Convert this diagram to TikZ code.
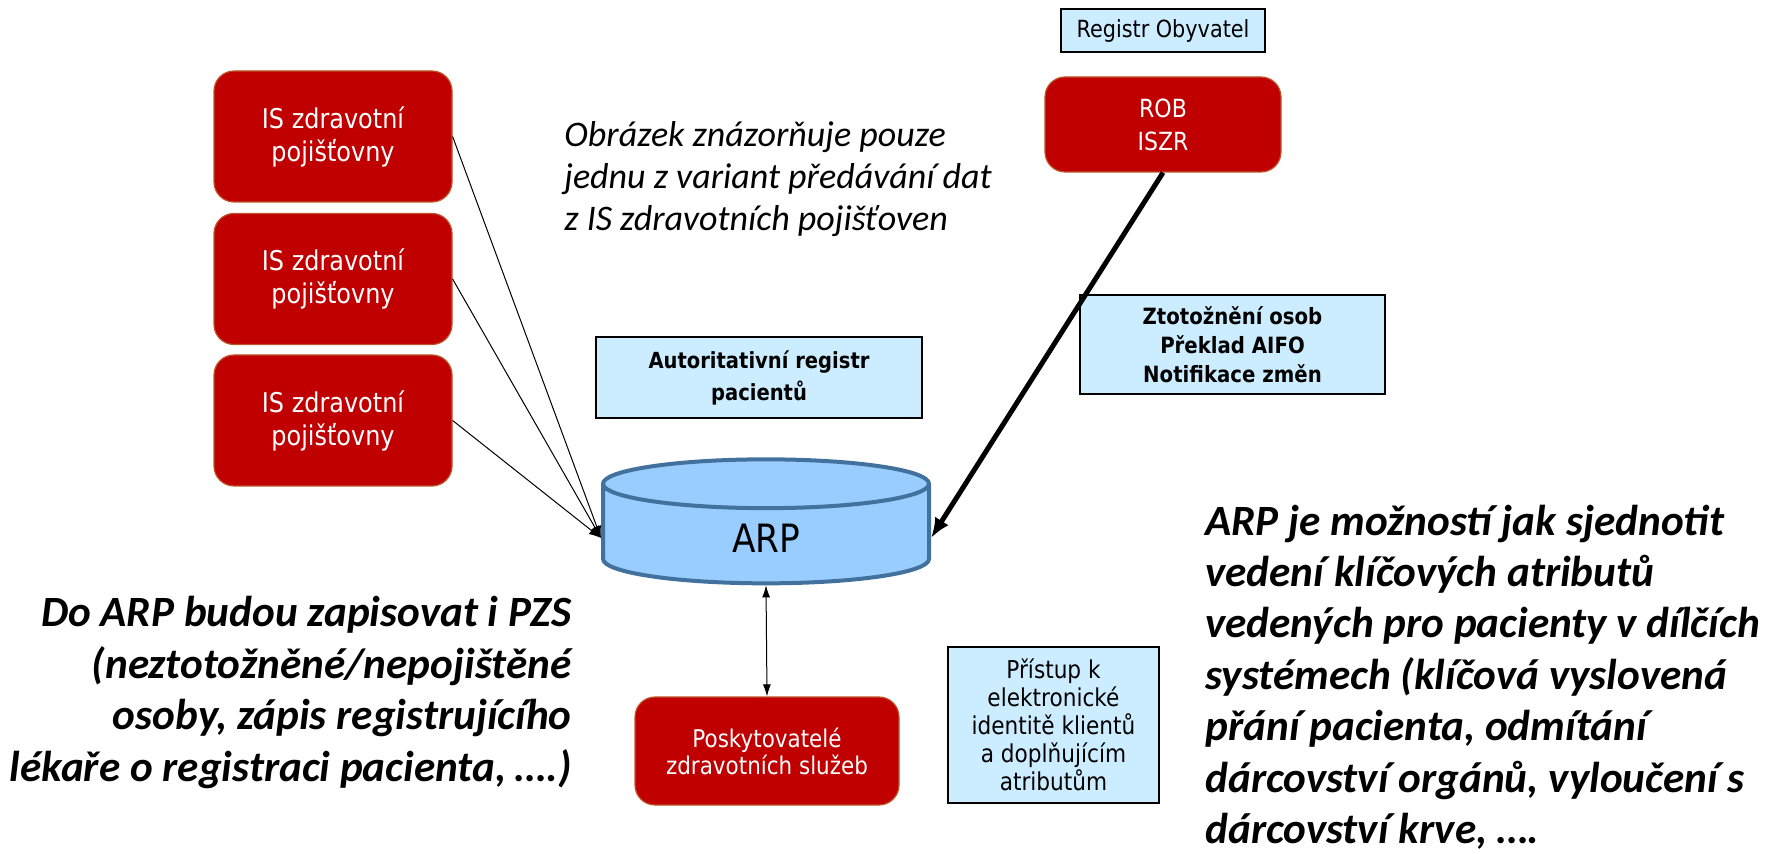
\documentclass[tikz,border=0pt]{standalone}
\usepackage{fontspec}
\usepackage{tikz}
\usetikzlibrary{shapes.geometric,arrows.meta}
\setmainfont{Carlito}
\newfontfamily\boxfont[FakeStretch=0.88]{DejaVu Sans}
\definecolor{isred}{RGB}{192, 0, 0}
\definecolor{isedge}{RGB}{190, 84, 40}
\definecolor{regblue}{RGB}{204, 236, 255}
\definecolor{dbfill}{RGB}{153, 204, 255}
\definecolor{dbedge}{RGB}{65, 113, 156}
\tikzset{
  isbox/.style={rectangle, rounded corners=10pt, fill=isred, draw=isedge, line width=0.6pt,
    text=white, align=center, font=\boxfont\fontsize{13.6}{16.5}\selectfont},
  regbox/.style={rectangle, fill=regblue, draw=black, line width=0.8pt, align=center,
    font=\boxfont\fontsize{11.8}{14}\selectfont},
  notetext/.style={inner sep=0pt, align=left, font=\itshape\fontsize{18}{21}\selectfont},
  claim/.style={inner sep=0pt, font=\bfseries\itshape\fontsize{21.6}{25.7}\selectfont},
  feed/.style={line width=0.5pt, -{Latex[length=6pt, width=4.5pt]}},
}
\begin{document}
\begin{tikzpicture}
\useasboundingbox (0pt, 0pt) rectangle (882.5pt, -427pt);
% insurers
\node (is1) [isbox, minimum width=119pt, minimum height=65.5pt] at (166.5pt, -68.25pt) {IS zdravotní\\pojišťovny};
\node (is2) [isbox, minimum width=119pt, minimum height=65.5pt] at (166.5pt, -139.5pt) {IS zdravotní\\pojišťovny};
\node (is3) [isbox, minimum width=119pt, minimum height=65.5pt] at (166.5pt, -210.25pt) {IS zdravotní\\pojišťovny};
% registers
\node (obyv) [regbox, minimum width=102pt, minimum height=21.5pt] at (581.5pt, -15.25pt) {Registr Obyvatel};
\node (rob) [isbox, minimum width=118pt, minimum height=47.5pt, font=\boxfont\fontsize{12.5}{16.5}\selectfont] at (581.5pt, -62.25pt) {ROB\\ISZR};
\node (ztoz) [regbox, minimum width=152.5pt, minimum height=49.5pt, font=\boxfont\bfseries\fontsize{11.2}{14.5}\selectfont] at (616.25pt, -172.25pt) {Ztotožnění osob\\Překlad AIFO\\Notifikace změn};
\node (arpreg) [regbox, minimum width=163pt, minimum height=40.5pt, font=\boxfont\bfseries\fontsize{11.1}{16}\selectfont] at (379.5pt, -188.75pt) {Autoritativní registr\\pacientů};
\node (arp) [cylinder, shape border rotate=90, aspect=0.6, fill=dbfill, draw=dbedge, line width=2pt,
  minimum width=163pt, minimum height=62pt, font=\boxfont\fontsize{19.5}{21}\selectfont] at (383pt, -269pt) {ARP};
\node (pzs) [isbox, minimum width=132pt, minimum height=54pt, font=\boxfont\fontsize{12.2}{13.5}\selectfont] at (383.5pt, -375.5pt) {Poskytovatelé\\zdravotních služeb};
\node (pristup) [regbox, minimum width=105.5pt, minimum height=78pt, font=\boxfont\fontsize{12.3}{14}\selectfont] at (526.75pt, -362.5pt) {Přístup k\\elektronické\\identitě klientů\\a doplňujícím\\atributům};
% texts
\node (note) [notetext, anchor=west] at (282pt, -89.5pt) {Obrázek znázorňuje pouze\\jednu z variant předávání dat\\z IS zdravotních pojišťoven};
\node (pzsnote) [claim, align=right, anchor=east] at (286pt, -346.25pt) {Do ARP budou zapisovat i PZS\\(neztotožněné/nepojištěné\\osoby, zápis registrujícího\\lékaře o registraci pacienta, \dots.)};
\node (arpnote) [claim, align=left, anchor=west] at (602.5pt, -338.5pt) {ARP je možností jak sjednotit\\vedení klíčových atributů\\vedených pro pacienty v dílčích\\systémech (klíčová vyslovená\\přání pacienta, odmítání\\dárcovství orgánů, vyloučení s\\dárcovství krve, \dots.};
% connectors
\draw [feed] (is1.east) to (arp.west);
\draw [feed] (is2.east) to (arp.west);
\draw [feed] (is3.east) to (arp.west);
\draw [line width=2.5pt, -{Latex[length=10pt, width=8pt]}] (rob.south) to (arp.east);
\draw [line width=0.5pt, {Latex[length=6pt, width=4pt]}-{Latex[length=6pt, width=4pt]}] (arp.south) to (pzs.north);
\end{tikzpicture}
\end{document}
